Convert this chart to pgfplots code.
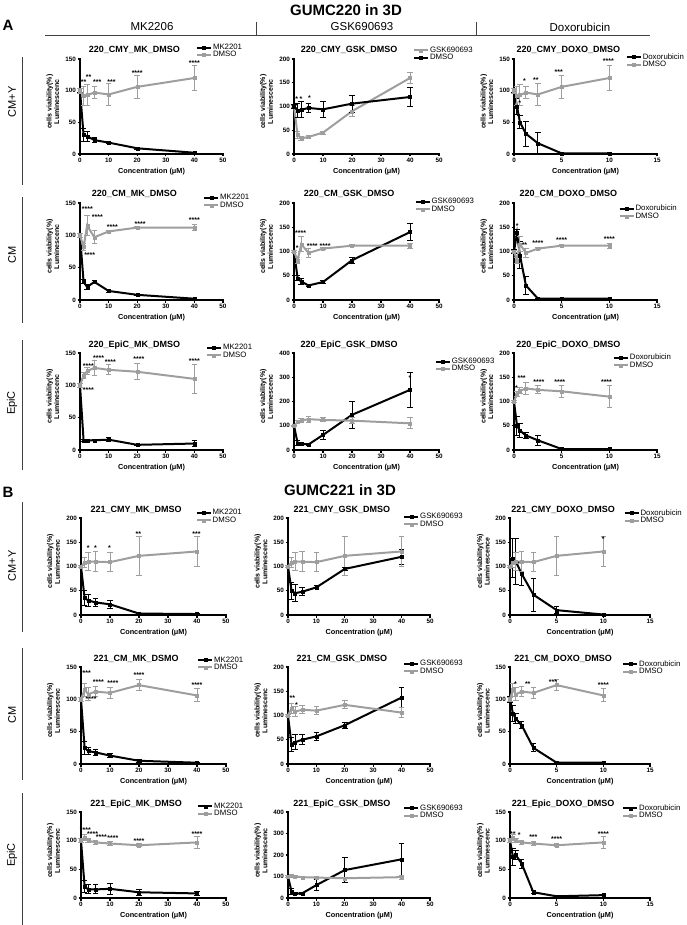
\documentclass[border=0pt]{standalone}
\usepackage{fontspec}
\setmainfont{Liberation Sans}
\usepackage{pgfplots}
\usepackage{pgfplotstable}
\pgfplotsset{compat=1.18}
\definecolor{dgray}{RGB}{158,158,158}

% DMSO controls (shared per row): xm = MK/GSK conc., xd = doxorubicin conc.
\pgfplotstableread{
xm xd y e
0 0 100 4
1.25 0.3125 92 15
2.5 0.625 93 17
5 1.25 97 10
10 2.5 94 17
20 5 106 18
40 10 120 20
}\dmsoA
\pgfplotstableread{
xm xd y e
0 0 100 3
1.25 0.3125 82 6
2.5 0.625 115 15
5 1.25 97 10
10 2.5 106 2
20 5 112 2
40 10 112 5
}\dmsoB
\pgfplotstableread{
xm xd y e
0 0 100 3
1.25 0.3125 115 5
2.5 0.625 122 6
5 1.25 127 12
10 2.5 124 8
20 5 121 12
40 10 110 22
}\dmsoC
\pgfplotstableread{
xm xd y e
0 0 100 3
1.25 0.3125 108 10
2.5 0.625 110 18
5 1.25 110 20
10 2.5 109 20
20 5 122 40
40 10 131 30
}\dmsoD
\pgfplotstableread{
xm xd y e
0 0 100 3
1.25 0.3125 115 10
2.5 0.625 108 10
5 1.25 112 8
10 2.5 110 8
20 5 122 8
40 10 106 10
}\dmsoE
\pgfplotstableread{
xm xd y e
0 0 100 3
1.25 0.3125 105 5
2.5 0.625 100 3
5 1.25 97 3
10 2.5 95 3
20 5 92 3
40 10 97 10
}\dmsoF

\pgfplotsset{
  panel/.style={
    scale only axis, anchor=south west, axis lines*=left, clip=false,
    xmin=0, ymin=0,
    axis line style={line width=1.6pt, line cap=rect},
    tick align=outside, major tick length=2.5pt,
    every tick/.style={line width=1.1pt, black},
    tick label style={font=\fontsize{6.3}{6.3}\selectfont\bfseries, inner sep=1.5pt},
    /pgf/number format/assume math mode=true,
    xlabel={Concentration (μM)},
    every axis x label/.style={at={(axis description cs:0.5,0)}, anchor=center, yshift=-18pt, font=\fontsize{7.3}{8}\selectfont\bfseries},
    ylabel={cells viability(\%)\\Luminescenc},
    every axis y label/.style={at={(axis description cs:-0.19,0.55)}, anchor=center, rotate=90, align=center, font=\fontsize{7}{7.6}\selectfont\bfseries},
    every axis title/.style={at={(axis description cs:0.38,1)}, anchor=base, yshift=6pt, font=\fontsize{9}{10}\selectfont\bfseries},
    legend style={draw=none, fill=none, anchor=north west, font=\fontsize{7.8}{8}\selectfont, inner sep=0pt, row sep=-1.5pt, nodes={inner sep=1pt}},
    legend cell align=left,
    legend image code/.code={\draw[mark repeat=2, mark phase=2, #1] plot coordinates {(0pt,0pt) (7pt,0pt) (14pt,0pt)};},
  },
  mk/.style={panel, xmax=50, xtick={0,10,20,30,40,50}},
  dx/.style={panel, xmax=15, xtick={0,5,10,15}},
  y150/.style={ymax=150, ytick={0,50,100,150}},
  y200/.style={ymax=200, ytick={0,50,100,150,200}},
  y400/.style={ymax=400, ytick={0,100,200,300,400}},
  blk/.style={black, line width=2pt, mark=square*, mark size=1.5pt, mark options={solid, line width=0.3pt},
    error bars/y dir=both, error bars/y explicit,
    error bars/error bar style={line width=1pt},
    error bars/error mark options={rotate=90, line width=1pt, mark size=2.8pt}},
  gry/.style={dgray, line width=2pt, mark=square*, mark size=1.5pt, mark options={solid, line width=0.3pt},
    error bars/y dir=both, error bars/y explicit,
    error bars/error bar style={line width=1pt},
    error bars/error mark options={rotate=90, line width=1pt, mark size=2.8pt}},
}
\tikzset{ast/.style={font=\fontsize{7}{7}\selectfont\bfseries, inner sep=0pt}}

\begin{document}
\begin{tikzpicture}
\useasboundingbox (0pt,0pt) rectangle (686pt,-925pt);

% ---------- headers ----------
\node[font=\fontsize{15}{15}\selectfont\bfseries] at (8pt,-25pt) {A};
\node[font=\fontsize{15}{15}\selectfont\bfseries] at (346pt,-10pt) {GUMC220 in 3D};
\node[font=\fontsize{11.5}{12}\selectfont] at (152pt,-27pt) {MK2206};
\node[font=\fontsize{11.5}{12}\selectfont] at (362pt,-27pt) {GSK690693};
\node[font=\fontsize{11.5}{12}\selectfont] at (580pt,-27pt) {Doxorubicin};
\draw[line width=0.9pt, black!75] (45pt,-35pt) -- (650pt,-35pt);
\draw[line width=0.9pt, black!75] (256pt,-22pt) -- (256pt,-35pt);
\draw[line width=0.9pt, black!75] (476pt,-22pt) -- (476pt,-35pt);
\node[font=\fontsize{15}{15}\selectfont\bfseries] at (8pt,-492pt) {B};
\node[font=\fontsize{15}{15}\selectfont\bfseries] at (340pt,-490pt) {GUMC221 in 3D};

% row labels
\foreach \yc/\ya/\yb/\lab in {102/57/185/CM+Y, 255/197/323/CM, 403/340/470/EpiC, 566/502/632/CM+Y, 715/648/780/CM, 855/793/925/EpiC}{
  \node[rotate=90, font=\fontsize{11}{11}\selectfont] at (12pt,-\yc pt) {\lab};
  \draw[line width=0.9pt, black!75] (22pt,-\ya pt) -- (22pt,-\yb pt);
}

% ================= ROW 1 =================
\begin{axis}[mk, y150, at={(80pt,-154pt)}, width=143pt, height=95pt,
  title={220\_CMY\_MK\_DMSO}, legend style={at={(0.81,1.17)}}]
\addplot[blk] coordinates {(0,100)+-(0,3) (1.25,30)+-(0,10) (2.5,28)+-(0,8) (5,22)+-(0,4) (10,18)+-(0,2) (20,9)+-(0,2) (40,2)+-(0,1)};
\addlegendentry{MK2201}
\addplot[gry] table[x=xm, y=y, y error=e] {\dmsoA};
\addlegendentry{DMSO}
\node[ast] at (axis cs:1.25,113) {**};
\node[ast] at (axis cs:3,121) {**};
\node[ast] at (axis cs:6,113) {***};
\node[ast] at (axis cs:11,113) {***};
\node[ast] at (axis cs:20,128) {****};
\node[ast] at (axis cs:40,144) {****};
\end{axis}

\begin{axis}[mk, y200, at={(294pt,-154pt)}, width=145pt, height=95pt,
  title={220\_CMY\_GSK\_DMSO}, legend style={at={(0.82,1.14)}}]
\addplot[gry] coordinates {(0,100)+-(0,3) (1.25,40)+-(0,8) (2.5,33)+-(0,4) (5,36)+-(0,3) (10,45)+-(0,3) (20,90)+-(0,12) (40,160)+-(0,12)};
\addlegendentry{GSK690693}
\addplot[blk] table[x=xm, y=y, y error=e] {\dmsoA};
\addlegendentry{DMSO}
\node[ast] at (axis cs:0.9,115) {*};
\node[ast] at (axis cs:2.4,116) {*};
\node[ast] at (axis cs:5.3,118) {*};
\end{axis}

\begin{axis}[dx, y150, at={(514pt,-154pt)}, width=143pt, height=95pt,
  title={220\_CMY\_DOXO\_DMSO}, legend style={at={(0.78,1.07)}}]
\addplot[blk] coordinates {(0,100)+-(0,3) (0.3125,75)+-(0,12) (0.625,50)+-(0,10) (1.25,32)+-(0,20) (2.5,17)+-(0,17) (5,1)+-(0,1) (10,1)+-(0,1)};
\addlegendentry{Doxorubicin}
\addplot[gry] table[x=xd, y=y, y error=e] {\dmsoA};
\addlegendentry{DMSO}
\node[ast] at (axis cs:0.6,80) {*};
\node[ast] at (axis cs:1.1,115) {*};
\node[ast] at (axis cs:2.3,117) {**};
\node[ast] at (axis cs:4.7,130) {***};
\node[ast] at (axis cs:9.9,146) {****};
\end{axis}

% ================= ROW 2 =================
\begin{axis}[mk, y150, at={(80pt,-300pt)}, width=143pt, height=97pt,
  title={220\_CM\_MK\_DMSO}, legend style={at={(0.86,1.10)}}]
\addplot[blk] coordinates {(0,100)+-(0,3) (1.25,28)+-(0,3) (2.5,20)+-(0,4) (5,28)+-(0,2) (10,14)+-(0,2) (20,8)+-(0,1) (40,2)+-(0,1)};
\addlegendentry{MK2201}
\addplot[gry] table[x=xm, y=y, y error=e] {\dmsoB};
\addlegendentry{DMSO}
\node[ast] at (axis cs:2.6,140) {****};
\node[ast] at (axis cs:3.4,69) {****};
\node[ast] at (axis cs:6.1,128) {****};
\node[ast] at (axis cs:11.3,113) {****};
\node[ast] at (axis cs:21,118) {****};
\node[ast] at (axis cs:40,123) {****};
\end{axis}

\begin{axis}[mk, y200, at={(294pt,-300pt)}, width=145pt, height=97pt,
  title={220\_CM\_GSK\_DMSO}, legend style={at={(0.83,1.06)}}]
\addplot[blk] coordinates {(0,100)+-(0,3) (1.25,45)+-(0,5) (2.5,38)+-(0,6) (5,30)+-(0,2) (10,37)+-(0,4) (20,82)+-(0,6) (40,140)+-(0,17)};
\addlegendentry{GSK690693}
\addplot[gry] table[x=xm, y=y, y error=e] {\dmsoB};
\addlegendentry{DMSO}
\node[ast] at (axis cs:2.3,137) {****};
\node[ast] at (axis cs:1.1,107) {*};
\node[ast] at (axis cs:6.3,112) {****};
\node[ast] at (axis cs:10.7,112) {****};
\end{axis}

\begin{axis}[dx, y200, at={(514pt,-300pt)}, width=143pt, height=97pt,
  title={220\_CM\_DOXO\_DMSO}, legend style={at={(0.73,0.99)}}]
\addplot[blk] coordinates {(0,100)+-(0,5) (0.3125,138)+-(0,8) (0.625,92)+-(0,28) (1.25,30)+-(0,18) (2.5,3)+-(0,1) (5,3)+-(0,1) (10,3)+-(0,1)};
\addlegendentry{Doxorubicin}
\addplot[gry] table[x=xd, y=y, y error=e] {\dmsoB};
\addlegendentry{DMSO}
\node[ast] at (axis cs:0.35,153) {*};
\node[ast] at (axis cs:1.1,113) {**};
\node[ast] at (axis cs:2.5,118) {****};
\node[ast] at (axis cs:5,124) {****};
\node[ast] at (axis cs:10,126) {****};
\end{axis}

% ================= ROW 3 =================
\begin{axis}[mk, y150, at={(80pt,-450pt)}, width=143pt, height=97pt,
  title={220\_EpiC\_MK\_DMSO}, legend style={at={(0.88,1.10)}}]
\addplot[blk] coordinates {(0,100)+-(0,3) (1.25,15)+-(0,2) (2.5,15)+-(0,2) (5,15)+-(0,1) (10,16)+-(0,3) (20,8)+-(0,1) (40,10)+-(0,4)};
\addlegendentry{MK2201}
\addplot[gry] table[x=xm, y=y, y error=e] {\dmsoC};
\addlegendentry{DMSO}
\node[ast] at (axis cs:2.9,129) {****};
\node[ast] at (axis cs:2.9,93) {****};
\node[ast] at (axis cs:6.5,142) {****};
\node[ast] at (axis cs:10.6,136) {****};
\node[ast] at (axis cs:20.6,140) {****};
\node[ast] at (axis cs:40,137) {****};
\end{axis}

\begin{axis}[mk, y400, at={(294pt,-450pt)}, width=145pt, height=97pt,
  title={220\_EpiC\_GSK\_DMSO}, legend style={at={(0.97,0.96)}}]
\addplot[blk] coordinates {(0,100)+-(0,3) (1.25,28)+-(0,10) (2.5,25)+-(0,5) (5,23)+-(0,3) (10,62)+-(0,18) (20,145)+-(0,55) (40,248)+-(0,72)};
\addlegendentry{GSK690693}
\addplot[gry] table[x=xm, y=y, y error=e] {\dmsoC};
\addlegendentry{DMSO}
\node[ast] at (axis cs:40,297) {*};
\end{axis}

\begin{axis}[dx, y200, at={(514pt,-450pt)}, width=143pt, height=97pt,
  title={220\_EpiC\_DOXO\_DMSO}, legend style={at={(0.69,1.0)}}]
\addplot[blk] coordinates {(0,100)+-(0,3) (0.3125,50)+-(0,20) (0.625,40)+-(0,15) (1.25,30)+-(0,6) (2.5,20)+-(0,10) (5,2)+-(0,1) (10,2)+-(0,1)};
\addlegendentry{Doxorubicin}
\addplot[gry] table[x=xd, y=y, y error=e] {\dmsoC};
\addlegendentry{DMSO}
\node[ast] at (axis cs:0.25,128) {*};
\node[ast] at (axis cs:0.8,149) {***};
\node[ast] at (axis cs:2.6,140) {****};
\node[ast] at (axis cs:4.8,140) {****};
\node[ast] at (axis cs:9.7,140) {****};
\end{axis}

% ================= ROW 4 =================
\begin{axis}[mk, y200, at={(81pt,-615pt)}, width=145pt, height=97pt,
  title={221\_CMY\_MK\_DMSO}, legend style={at={(0.79,1.10)}}]
\addplot[blk] coordinates {(0,100)+-(0,3) (1.25,35)+-(0,15) (2.5,30)+-(0,12) (5,26)+-(0,8) (10,22)+-(0,8) (20,3)+-(0,1) (40,2)+-(0,1)};
\addlegendentry{MK2201}
\addplot[gry] table[x=xm, y=y, y error=e] {\dmsoD};
\addlegendentry{DMSO}
\node[ast] at (axis cs:2.5,138) {*};
\node[ast] at (axis cs:5,138) {*};
\node[ast] at (axis cs:9.8,138) {*};
\node[ast] at (axis cs:19.8,166) {**};
\node[ast] at (axis cs:39.8,166) {***};
\end{axis}

\begin{axis}[mk, y200, at={(288pt,-615pt)}, width=142pt, height=97pt,
  title={221\_CMY\_GSK\_DMSO}, legend style={at={(0.81,1.06)}}]
\addplot[blk] coordinates {(0,100)+-(0,3) (1.25,50)+-(0,18) (2.5,45)+-(0,18) (5,48)+-(0,8) (10,57)+-(0,3) (20,95)+-(0,3) (40,120)+-(0,15)};
\addlegendentry{GSK690693}
\addplot[gry] table[x=xm, y=y, y error=e] {\dmsoD};
\addlegendentry{DMSO}
\end{axis}

\begin{axis}[dx, y200, at={(510pt,-615pt)}, width=140pt, height=97pt,
  ylabel={cells viability(\%)\\Luminescence},
  title={221\_CMY\_DOXO\_DMSO}, legend style={at={(0.81,1.10)}}]
\addplot[blk] coordinates {(0,100)+-(0,3) (0.3125,117)+-(0,40) (0.625,110)+-(0,48) (1.25,85)+-(0,25) (2.5,42)+-(0,34) (5,10)+-(0,7) (10,1)+-(0,1)};
\addlegendentry{Doxorubicin}
\addplot[gry] table[x=xd, y=y, y error=e] {\dmsoD};
\addlegendentry{DMSO}
\node[ast] at (axis cs:1.0,104) {**};
\node[ast] at (axis cs:10,157) {*};
\end{axis}

% ================= ROW 5 =================
\begin{axis}[mk, y150, at={(81pt,-764pt)}, width=145pt, height=97pt,
  title={221\_CM\_MK\_DSMO}, legend style={at={(0.80,1.12)}}]
\addplot[blk] coordinates {(0,100)+-(0,3) (1.25,25)+-(0,10) (2.5,20)+-(0,6) (5,18)+-(0,5) (10,13)+-(0,3) (20,5)+-(0,2) (40,2)+-(0,1)};
\addlegendentry{MK2201}
\addplot[gry] table[x=xm, y=y, y error=e] {\dmsoE};
\addlegendentry{DMSO}
\node[ast] at (axis cs:1.5,141) {****};
\node[ast] at (axis cs:3.5,100) {****};
\node[ast] at (axis cs:6,127) {****};
\node[ast] at (axis cs:11,125) {****};
\node[ast] at (axis cs:20,137) {****};
\node[ast] at (axis cs:40,122) {****};
\end{axis}

\begin{axis}[mk, y200, at={(288pt,-764pt)}, width=142pt, height=97pt,
  title={221\_CM\_GSK\_DMSO}, legend style={at={(0.81,1.08)}}]
\addplot[blk] coordinates {(0,100)+-(0,3) (1.25,40)+-(0,15) (2.5,45)+-(0,15) (5,50)+-(0,10) (10,57)+-(0,8) (20,80)+-(0,6) (40,137)+-(0,20)};
\addlegendentry{GSK690693}
\addplot[gry] table[x=xm, y=y, y error=e] {\dmsoE};
\addlegendentry{DMSO}
\node[ast] at (axis cs:1.5,135) {**};
\node[ast] at (axis cs:3,122) {*};
\end{axis}

\begin{axis}[dx, y150, at={(510pt,-764pt)}, width=140pt, height=97pt,
  title={221\_CM\_DOXO\_DMSO}, legend style={at={(0.80,1.08)}}]
\addplot[blk] coordinates {(0,100)+-(0,5) (0.3125,78)+-(0,12) (0.625,70)+-(0,8) (1.25,60)+-(0,5) (2.5,25)+-(0,6) (5,2)+-(0,1) (10,2)+-(0,1)};
\addlegendentry{Doxorubicin}
\addplot[gry] table[x=xd, y=y, y error=e] {\dmsoE};
\addlegendentry{DMSO}
\node[ast] at (axis cs:0.6,124) {*};
\node[ast] at (axis cs:1.9,124) {**};
\node[ast] at (axis cs:4.6,126) {***};
\node[ast] at (axis cs:10,122) {****};
\end{axis}

% ================= ROW 6 =================
\begin{axis}[mk, y150, at={(81pt,-898pt)}, width=145pt, height=86pt,
  title={221\_EpiC\_MK\_DMSO}, legend style={at={(0.80,1.12)}}]
\addplot[blk] coordinates {(0,100)+-(0,3) (1.25,20)+-(0,10) (2.5,15)+-(0,8) (5,15)+-(0,8) (10,16)+-(0,10) (20,10)+-(0,5) (40,8)+-(0,3)};
\addlegendentry{MK2201}
\addplot[gry] table[x=xm, y=y, y error=e] {\dmsoF};
\addlegendentry{DMSO}
\node[ast] at (axis cs:1.5,118) {****};
\node[ast] at (axis cs:4,112) {****};
\node[ast] at (axis cs:7,106) {****};
\node[ast] at (axis cs:11,104) {****};
\node[ast] at (axis cs:20,100) {****};
\node[ast] at (axis cs:40,112) {****};
\end{axis}

\begin{axis}[mk, y400, at={(288pt,-898pt)}, width=142pt, height=86pt,
  title={221\_EpiC\_GSK\_DMSO}, legend style={at={(0.81,1.10)}}]
\addplot[blk] coordinates {(0,100)+-(0,3) (1.25,30)+-(0,15) (2.5,20)+-(0,5) (5,22)+-(0,5) (10,60)+-(0,25) (20,130)+-(0,60) (40,180)+-(0,75)};
\addlegendentry{GSK690693}
\addplot[gry] table[x=xm, y=y, y error=e] {\dmsoF};
\addlegendentry{DMSO}
\end{axis}

\begin{axis}[dx, y150, at={(510pt,-898pt)}, width=140pt, height=86pt,
  title={221\_Epic\_DOXO\_DMSO}, legend style={at={(0.80,1.10)}}]
\addplot[blk] coordinates {(0,100)+-(0,3) (0.3125,72)+-(0,15) (0.625,75)+-(0,8) (1.25,60)+-(0,8) (2.5,10)+-(0,3) (5,3)+-(0,1) (10,5)+-(0,1)};
\addlegendentry{Doxorubicin}
\addplot[gry] table[x=xd, y=y, y error=e] {\dmsoF};
\addlegendentry{DMSO}
\node[ast] at (axis cs:0.3,112) {**};
\node[ast] at (axis cs:1.0,110) {*};
\node[ast] at (axis cs:2.5,106) {***};
\node[ast] at (axis cs:5,102) {****};
\node[ast] at (axis cs:10,112) {****};
\end{axis}

\end{tikzpicture}
\end{document}
